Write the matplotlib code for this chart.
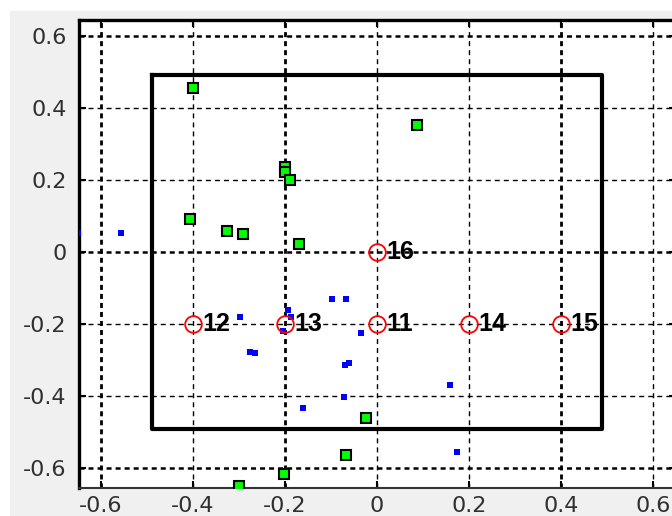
import matplotlib
matplotlib.use("Agg")
import matplotlib.pyplot as plt
from matplotlib.patches import Rectangle

# anchor nodes (red circles) and their ids
node_ids = [16, 12, 13, 11, 14, 15]
node_x = [0.0, -0.4, -0.2, 0.0, 0.2, 0.4]
node_y = [0.0, -0.2, -0.2, -0.2, -0.2, -0.2]

# green squares
green_x = [-0.400, 0.087, -0.200, -0.200, -0.189, -0.407, -0.326, -0.291,
           -0.169, -0.024, -0.068, -0.202, -0.301]
green_y = [0.455, 0.352, 0.236, 0.222, 0.200, 0.092, 0.059, 0.049,
           0.022, -0.461, -0.563, -0.617, -0.649]

# blue points
blue_x = [-0.651, -0.556, -0.298, -0.276, -0.266, -0.194, -0.186, -0.204,
          -0.162, -0.099, -0.068, -0.035, -0.070, -0.060, -0.072, 0.159, 0.174]
blue_y = [0.052, 0.052, -0.180, -0.277, -0.280, -0.161, -0.180, -0.219,
          -0.433, -0.131, -0.131, -0.224, -0.314, -0.309, -0.403, -0.369, -0.556]

# deployment area
box_lo, box_hi = -0.49, 0.49
ticks = [-0.6, -0.4, -0.2, 0, 0.2, 0.4, 0.6]

plt.rcParams['axes.unicode_minus'] = False
plt.rcParams['lines.scale_dashes'] = False

fig = plt.figure(figsize=(6.72, 5.16), dpi=100, facecolor='white')
fig.patches.append(Rectangle((10 / 672, 0), 1, 1 - 11 / 516,
                             transform=fig.transFigure, color='#f0f0f0', zorder=-10))

W, H = 672, 516
ax = fig.add_axes([79 / W, 28 / H, (676 - 79) / W, (488 - 19.5) / H])
ax.set_xlim(-0.648, 0.65)
ax.set_ylim(-0.655, 0.645)
ax.set_xticks(ticks)
ax.set_yticks(ticks)
ax.set_xticklabels(['%g' % t for t in ticks])
ax.set_yticklabels(['%g' % t for t in ticks])

ax.grid(True, color='black', linestyle=(0, (3.6, 2.9)), linewidth=1.0)
for t, ln in zip(ticks, ax.get_xgridlines()):
    if t in (-0.6, -0.2, 0.4):
        ln.set_linewidth(2.0)
for t, ln in zip(ticks, ax.get_ygridlines()):
    if t in (-0.6, 0, 0.6):
        ln.set_linewidth(1.8)
ax.set_axisbelow(True)

ax.tick_params(direction='in', length=5, width=1.5, top=True, right=True,
               labelsize=16, labelcolor='#303030')
ax.tick_params(axis='x', pad=6)
ax.tick_params(axis='y', pad=9)
for side in ('left', 'top'):
    ax.spines[side].set_linewidth(2.4)
    ax.spines[side].set_color('black')
ax.spines['bottom'].set_linewidth(1.5)
ax.spines['bottom'].set_color('#333333')

ax.plot([box_lo, box_hi, box_hi, box_lo, box_lo],
        [box_hi, box_hi, box_lo, box_lo, box_hi],
        color='black', linewidth=3.0, zorder=3)

ax.plot(blue_x, blue_y, 's', color='#0000ff', markersize=4, markeredgewidth=0, zorder=4)
ax.plot(green_x, green_y, 's', markerfacecolor='#00ff00', markeredgecolor='black',
        markersize=7, markeredgewidth=1.5, zorder=5)
ax.plot(node_x, node_y, 'o', markerfacecolor='none', markeredgecolor='red',
        markersize=12, markeredgewidth=1.3, zorder=6)

for nid, x, y in zip(node_ids, node_x, node_y):
    ax.annotate(str(nid), (x, y), xytext=(6.5, 0), textcoords='offset points',
                va='center', ha='left', fontsize=18, fontweight='bold',
                family=['Liberation Sans', 'DejaVu Sans'], color='black', zorder=7)

fig.savefig('out.png', dpi=100, facecolor=fig.get_facecolor())
